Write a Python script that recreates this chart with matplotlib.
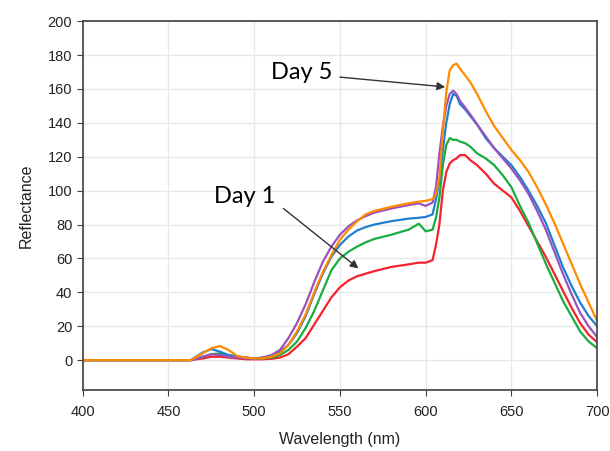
import matplotlib.pyplot as plt

# wavelength grid (nm) shared by all spectra
wavelength = [400, 463, 470, 475, 480, 485, 490, 495, 500, 505, 510, 515, 520, 525,
              530, 535, 540, 545, 550, 555, 560, 565, 570, 580, 590, 596, 600, 604,
              606, 608, 610, 612, 614, 616, 618, 620, 623, 626, 630, 635, 640, 645,
              650, 655, 660, 665, 670, 675, 680, 685, 690, 695, 700]

refl_red = [0, 0, 1, 2, 2, 1.5, 1, 0.5, 0.5, 0.5, 0.8, 1.5, 3.5, 8,
            13, 21, 29, 37, 43, 47, 49.5, 51, 52.5, 55, 56.5, 57.5, 57.5, 59,
            68, 80, 100, 111, 116, 118, 119, 121, 121, 118, 115, 110, 104, 100,
            96, 88, 79, 70, 61, 51, 41, 31, 22, 15, 10.6]

refl_green = [0, 0, 2, 3.5, 4, 3, 2, 1.5, 1, 1, 1.5, 3, 6, 11,
              19, 29, 41, 53, 60, 64, 67, 69.5, 71.5, 74, 77, 80.5, 76, 77,
              84, 96, 115, 127, 131, 130, 130, 129, 128, 126, 122, 119, 115, 109,
              102, 91, 81, 69, 57, 46, 35, 26, 17, 11, 7]

refl_blue = [0, 0, 4.5, 6.5, 5, 3, 2, 1.5, 1, 1.5, 2.5, 5, 9, 16,
             26, 39, 51, 61, 68, 73, 76.5, 78.5, 80, 82, 83.5, 84, 84.5, 86,
             95, 106, 124, 140, 151, 157, 156, 151, 148, 144, 139, 131, 125, 120,
             115, 108, 100, 91, 81, 68, 55, 44, 34, 26, 20]

refl_purple = [0, 0, 2, 3.5, 3, 2, 1.5, 1, 1, 1.5, 3, 6, 13, 22,
               33, 46, 58, 67, 74, 79, 82.5, 85, 87, 89.5, 91.5, 92.5, 91, 93,
               102, 122, 138, 150, 157, 159, 157, 153, 149, 145, 139, 132, 125, 119,
               113, 106, 98, 88, 77, 64, 51, 39, 28, 20, 13.5]

refl_orange = [0, 0, 4, 7, 8.3, 6, 2.5, 1.5, 1, 1, 2, 4, 9, 17,
               27, 40, 52, 62, 71, 77, 82, 86, 88, 90.5, 92.5, 93.5, 94, 95,
               98, 108, 135, 158, 171, 174, 175, 172, 168, 164, 157, 147, 138, 131,
               124, 118, 111, 102, 92, 81, 69, 57, 45, 34, 23]

series = [
    (refl_red, '#f5222d'),
    (refl_green, '#17ad3f'),
    (refl_blue, '#1f7fcf'),
    (refl_purple, '#9a52be'),
    (refl_orange, '#ff8a00'),
]

plt.rcParams['font.family'] = ['Liberation Sans', 'DejaVu Sans']

fig = plt.figure(figsize=(6.1, 4.51), dpi=100)
ax = fig.add_axes([0.1356, 0.135, 0.8434, 0.818])

for values, colour in series:
    ax.plot(wavelength, values, color=colour, lw=1.6)

ax.set_xlim(400, 700)
ax.set_ylim(-17.7, 200)
ax.set_xticks(range(400, 701, 50))
ax.set_yticks(range(0, 201, 20))
ax.grid(color='#e8e8e8', lw=1)
ax.set_axisbelow(True)

for side in ax.spines.values():
    side.set_color('#404040')
    side.set_linewidth(1.2)
ax.tick_params(direction='out', length=4, color='#404040', labelsize=10.5,
               labelcolor='#222222')
ax.tick_params(axis='x', pad=7)

ax.set_xlabel('Wavelength (nm)', fontsize=11.5, color='#222222', labelpad=9)
ax.set_ylabel('Reflectance', fontsize=11.5, color='#222222', labelpad=10)

# annotations: labels plus arrows drawn from a tail point to the curves
label_font = dict(fontsize=17, family=['Lato', 'DejaVu Sans'], ha='center', va='center')
ax.text(494.7, 96.5, 'Day 1', **label_font)
ax.text(527.5, 169.5, 'Day 5', **label_font)

arrow = dict(arrowstyle='-|>', color='#333333', lw=1, mutation_scale=12,
             shrinkA=0, shrinkB=0)
ax.annotate('', xy=(560.8, 54.1), xytext=(517, 89.5), arrowprops=arrow)
ax.annotate('', xy=(611.4, 161.2), xytext=(550, 167), arrowprops=arrow)

fig.savefig('out.png', dpi=100)
plt.close(fig)
